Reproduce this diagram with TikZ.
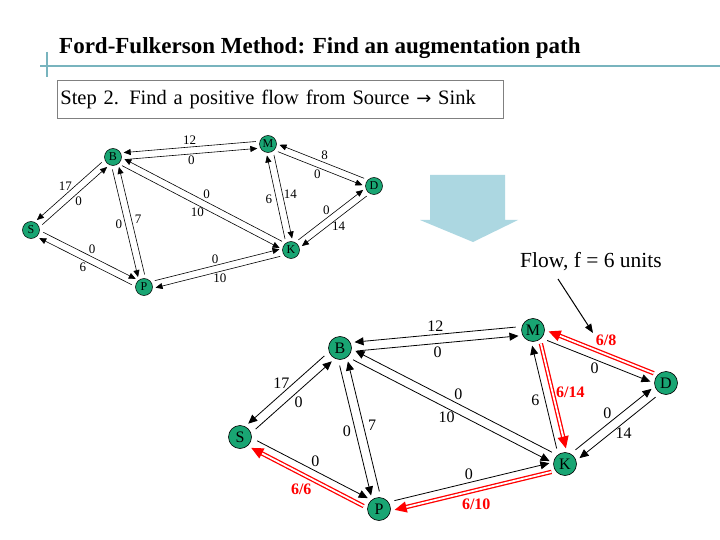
\documentclass[tikz,border=0pt]{standalone}
\usepackage{fontspec}
\setmainfont{Liberation Serif}
\newfontfamily\djv{DejaVu Sans}
\usetikzlibrary{calc,arrows.meta}
\definecolor{nodegreen}{RGB}{25,165,115}
\definecolor{teal1}{RGB}{120,180,190}
\definecolor{bluearr}{RGB}{172,215,225}
\newcommand\arr[7]{%
  \draw[#6] ($(#1)!#3!90:(#2)$) -- ($(#2)!#3!-90:(#1)$);
  \coordinate (tmpmid) at ($(#1)!#7!(#2)$);
  \node[lbl] at ($(tmpmid)!#4!90:(#2)$) {#5};}
\tikzset{
  blk/.style={draw=black, line width=0.8pt, -{Triangle[length=9pt,width=8pt]}, shorten <=17pt, shorten >=15pt},
  redd/.style={draw=red, line width=1.3pt, double=white, double distance=1.8pt, -{Triangle[length=12pt,width=11pt]}, shorten <=15pt, shorten >=15pt},
  sblk/.style={draw=black, line width=0.6pt, -{Triangle[length=7pt,width=6pt]}, shorten <=12pt, shorten >=11pt},
  bignode/.style={circle, draw=black, line width=0.6pt, fill=nodegreen, inner sep=0pt, minimum size=23pt, font=\fontsize{16}{16}\selectfont},
  smallnode/.style={circle, draw=black, line width=0.5pt, fill=nodegreen, inner sep=0pt, minimum size=17pt, font=\fontsize{12}{12}\selectfont},
  bl/.style={lbl/.style={font=\fontsize{16}{16}\selectfont, inner sep=0pt}},
  sl/.style={lbl/.style={font=\fontsize{13}{13}\selectfont, inner sep=0pt}},
  rl/.style={lbl/.style={font=\fontsize{16}{16}\selectfont\bfseries, text=red, inner sep=0pt}},
}
\begin{document}
\begin{tikzpicture}[x=1pt,y=-1pt]
\useasboundingbox (0,0) rectangle (720,540);
\fill[white] (0,0) rectangle (720,540);
% title
\draw[teal1, line width=1.5pt] (40,66) -- (720,66);
\draw[teal1, line width=1.5pt] (47,52) -- (47,77);
\node[anchor=west, font=\fontsize{23}{26}\selectfont\bfseries, inner sep=0pt] (title) at (59,48) {Ford-Fulkerson Method: Find an augmentation path};
\node[draw=gray, line width=0.8pt, anchor=west, minimum width=446pt, minimum height=38pt, text width=440pt, inner sep=3pt, font=\fontsize{20.5}{22}\selectfont] (step) at (57,99) {Step 2. Find a positive flow from Source {\djv\fontsize{18}{20}\selectfont →} Sink};
% big arrow
\fill[bluearr] (430,175) -- (505,175) -- (505,220) -- (518,220) -- (473,242) -- (420,220) -- (430,220) -- cycle;
\node[anchor=west, font=\fontsize{21.5}{24}\selectfont, inner sep=0pt] (flow) at (520,262) {Flow, f = 6 units};
\coordinate (ptr) at (593,333);
\draw[line width=1pt, -{Triangle[length=9pt,width=7pt]}] (558,279) -- (ptr);
% top graph
\begin{scope}[sl]
\node[smallnode] (tB) at (113,157) {B};
\node[smallnode] (tM) at (268,144) {M};
\node[smallnode] (tD) at (374,186) {D};
\node[smallnode] (tK) at (291,250) {K};
\node[smallnode] (tP) at (144,287) {P};
\node[smallnode] (tS) at (31,230) {S};
\arr{tM}{tB}{-3.5pt}{-10pt}{12}{sblk}{0.5}
\arr{tB}{tM}{-3.5pt}{-10pt}{0}{sblk}{0.5}
\arr{tD}{tM}{-3.5pt}{-10pt}{8}{sblk}{0.5}
\arr{tM}{tD}{-3.5pt}{-10pt}{0}{sblk}{0.5}
\arr{tK}{tM}{3.5pt}{11pt}{6}{sblk}{0.5}
\arr{tM}{tK}{3.5pt}{11pt}{14}{sblk}{0.5}
\arr{tK}{tD}{3.5pt}{10pt}{0}{sblk}{0.5}
\arr{tD}{tK}{3.5pt}{10pt}{14}{sblk}{0.5}
\arr{tK}{tB}{-3.5pt}{-10pt}{0}{sblk}{0.5}
\arr{tB}{tK}{-3.5pt}{-10pt}{10}{sblk}{0.5}
\arr{tB}{tS}{-3.5pt}{-10pt}{17}{sblk}{0.5}
\arr{tS}{tB}{-3.5pt}{-10pt}{0}{sblk}{0.5}
\arr{tB}{tP}{-3.5pt}{-10pt}{0}{sblk}{0.5}
\arr{tP}{tB}{-3.5pt}{-10pt}{7}{sblk}{0.5}
\arr{tS}{tP}{3.5pt}{10pt}{0}{sblk}{0.5}
\arr{tP}{tS}{3.5pt}{10pt}{6}{sblk}{0.5}
\arr{tP}{tK}{3.5pt}{10pt}{0}{sblk}{0.5}
\arr{tK}{tP}{3.5pt}{10pt}{10}{sblk}{0.5}
\end{scope}
% bottom graph
\begin{scope}[bl]
\node[bignode] (B) at (340,348) {B};
\node[bignode] (M) at (533,330) {M};
\node[bignode] (D) at (666,383) {D};
\node[bignode] (K) at (565,464) {K};
\node[bignode] (P) at (379,509) {P};
\node[bignode] (S) at (240,437) {S};
\arr{M}{B}{-4.5pt}{-13pt}{12}{blk}{0.5}
\arr{B}{M}{-4.5pt}{-13pt}{0}{blk}{0.5}
\arr{M}{D}{-4.5pt}{-13pt}{0}{blk}{0.5}
\arr{K}{M}{4.5pt}{14pt}{6}{blk}{0.5}
\arr{K}{D}{4.5pt}{13pt}{0}{blk}{0.5}
\arr{D}{K}{4.5pt}{13pt}{14}{blk}{0.5}
\arr{K}{B}{-4.5pt}{-13pt}{0}{blk}{0.5}
\arr{B}{K}{-4.5pt}{-13pt}{10}{blk}{0.5}
\arr{B}{S}{-4.5pt}{-13pt}{17}{blk}{0.5}
\arr{S}{B}{-4.5pt}{-13pt}{0}{blk}{0.5}
\arr{B}{P}{-4.5pt}{-13pt}{0}{blk}{0.5}
\arr{P}{B}{-4.5pt}{-13pt}{7}{blk}{0.5}
\arr{S}{P}{4.5pt}{13pt}{0}{blk}{0.5}
\arr{P}{K}{4.5pt}{13pt}{0}{blk}{0.5}
\end{scope}
\begin{scope}[rl]
\arr{D}{M}{-4.5pt}{-18pt}{6/8}{redd}{0.5}
\arr{M}{K}{4.5pt}{22pt}{6/14}{redd}{0.5}
\arr{P}{S}{4.5pt}{18pt}{6/6}{redd}{0.5}
\arr{K}{P}{4.5pt}{18pt}{6/10}{redd}{0.5}
\end{scope}
\end{tikzpicture}
\end{document}
